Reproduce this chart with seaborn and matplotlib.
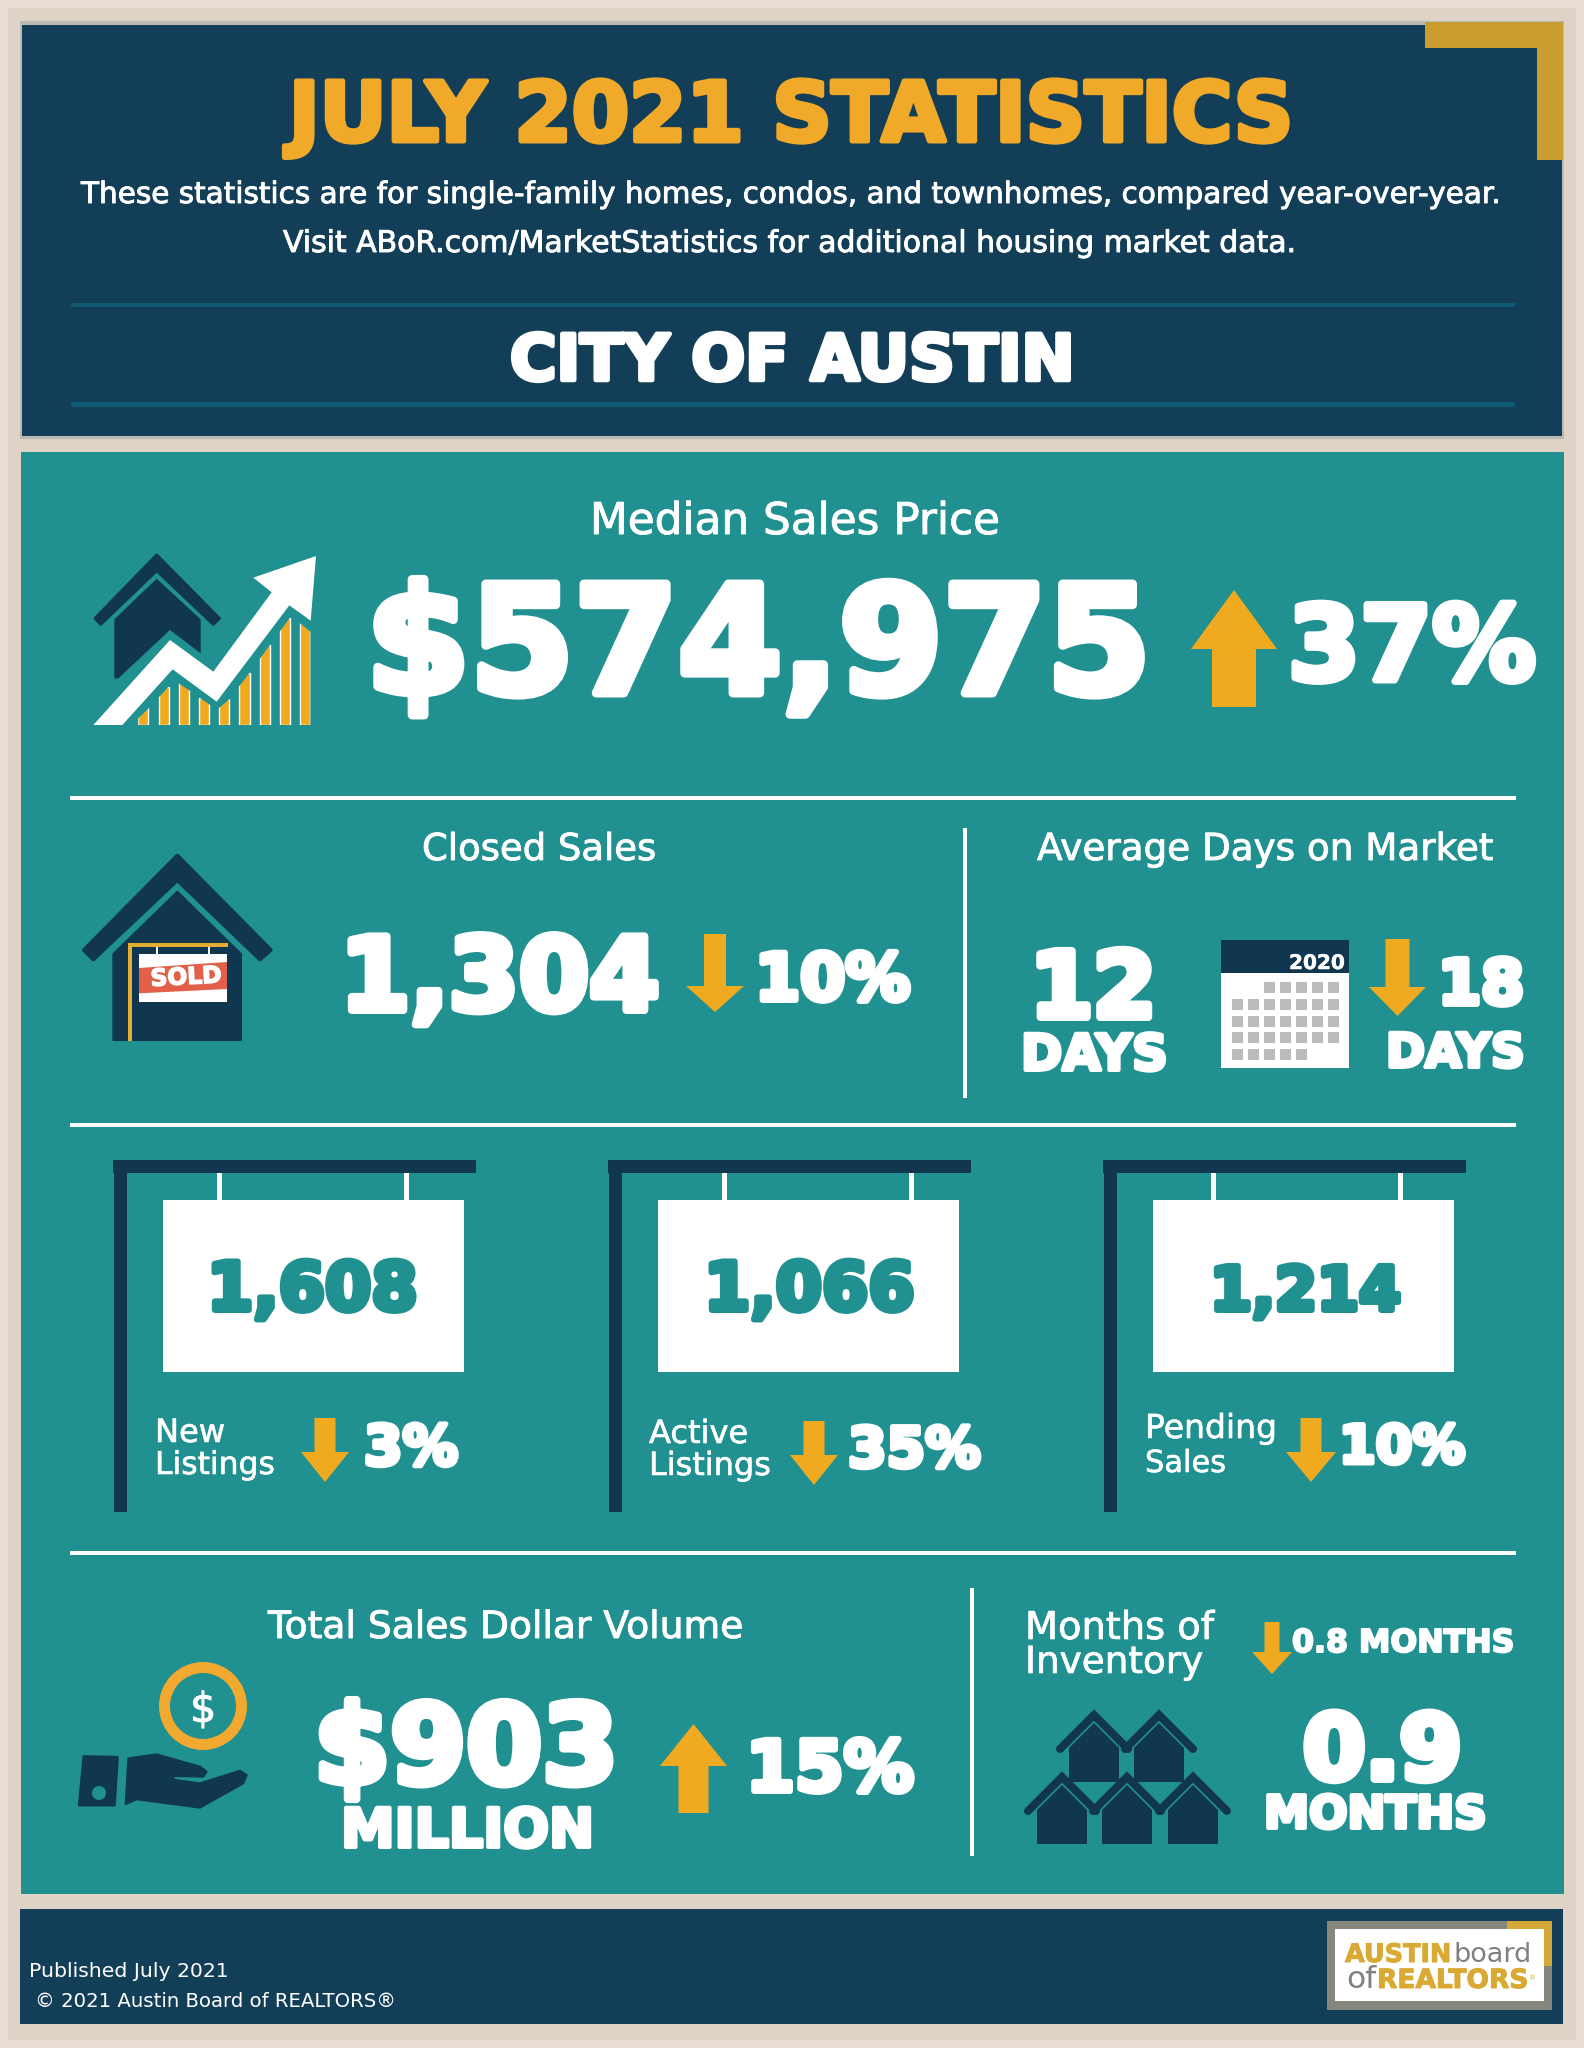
import matplotlib
matplotlib.use("Agg")
import matplotlib.pyplot as plt
import matplotlib.patheffects as pe
from matplotlib.patches import Polygon, Rectangle, Circle
import pandas as pd
import seaborn as sns

# report figures
title = "JULY 2021 STATISTICS"
subtitle_lines = ["These statistics are for single-family homes, condos, and townhomes, compared year-over-year.",
                  "Visit ABoR.com/MarketStatistics for additional housing market data."]
area = "CITY OF AUSTIN"
median_price = "$574,975"
median_change = "37%"
closed_sales = "1,304"
closed_change = "10%"
days_now = "12"
days_change = "18"
sign_values = ["1,608", "1,066", "1,214"]
sign_changes = ["3%", "35%", "10%"]
sign_labels = [["New", "Listings"], ["Active", "Listings"], ["Pending", "Sales"]]
volume = "$903"
volume_change = "15%"
inventory = "0.9"
inventory_change = "0.8 MONTHS"
footer_lines = ["Published July 2021", " © 2021 Austin Board of REALTORS®"]

# little bars in the price icon
icon_bars = [17, 38, 42, 27, 26, 52, 80, 107, 102]
# calendar squares per row: first column, count
cal_rows = [(2, 5), (0, 7), (0, 7), (0, 7), (0, 5)]

NAVY = "#123E57"
DARK = "#11364F"
TEAL = "#209090"
GOLD = "#F0AA1F"
CORNER = "#C99E2E"
WHITE = "#FFFFFF"
PX = 0.72

sns.set_theme(style="white")
plt.rcParams["font.family"] = ["DejaVu Sans"]

fig = plt.figure(figsize=(15.84, 20.48), dpi=100, facecolor="#E9DDD3")
ax = fig.add_axes([0, 0, 1, 1])
ax.set_xlim(0, 1584)
ax.set_ylim(2048, 0)
ax.axis("off")
rend = fig.canvas.get_renderer()


def box(x0, y0, x1, y1, c, z=1):
    ax.add_patch(Rectangle((x0, y0), x1 - x0, y1 - y0, fc=c, ec="none", zorder=z))


def poly(pts, c, z=3, org=None, round_px=0):
    if org:
        pts = [(org[0] + x / 3, org[1] + y / 3) for x, y in pts]
    ax.add_patch(Polygon(pts, closed=True, fc=c, ec=c if round_px else "none",
                         lw=round_px * PX, joinstyle="round", zorder=z))


def put(s, x0, x1, base, c=WHITE, weight="bold", stroke=0.0, z=6, rot=0):
    # fit text between x0 and x1 with its baseline on base
    t = ax.text(x0, base, s, color=c, fontweight=weight, fontsize=20, ha="left",
                va="baseline", parse_math=False, zorder=z, rotation=rot,
                rotation_mode="anchor")
    w = t.get_window_extent(rend).width
    t.set_fontsize(20 * (x1 - x0) / w)
    t.set_x(x0 + x0 - t.get_window_extent(rend).x0)
    if stroke:
        t.set_path_effects([pe.withStroke(linewidth=stroke * PX, foreground=c)])
    return t


def arrow(x0, x1, shaft, tail, neck, tip):
    xc = (x0 + x1) / 2
    poly([(xc - shaft / 2, tail), (xc + shaft / 2, tail), (xc + shaft / 2, neck), (x1, neck),
          (xc, tip), (x0, neck), (xc - shaft / 2, neck)], GOLD)


def small_house(cx, apex):
    # roof is a thick line, body sits under it
    ax.plot([cx - 34, cx, cx + 34], [apex + 40, apex + 6, apex + 40], color=DARK, lw=8 * PX,
            solid_capstyle="round", solid_joinstyle="miter", zorder=4)
    poly([(cx, apex + 14), (cx + 25, apex + 39), (cx + 25, apex + 73), (cx - 25, apex + 73),
          (cx - 25, apex + 39)], DARK, z=4)


# backgrounds
box(8, 8, 1576, 2040, "#DFD2C7", 0)
box(20, 21, 1564, 439, "#B9BAB3", 1)
box(22, 25, 1562, 436, NAVY, 2)
box(1425, 22, 1563, 48, CORNER, 3)
box(1537, 22, 1563, 160, CORNER, 3)
box(21, 452, 1564, 1894, TEAL, 1)
box(20, 1909, 1563, 2024, NAVY, 1)

# header
put(title, 289, 1292, 141, c="#F0A929", stroke=5)
put(subtitle_lines[0], 81, 1500, 203, weight="normal", stroke=0.9)
put(subtitle_lines[1], 283, 1296, 252, weight="normal", stroke=0.9)
box(71, 303, 1515, 307, "#0F5A73", 3)
box(71, 402, 1515, 407, "#0F5A73", 3)
put(area, 510, 1073, 380, stroke=4.5)

# median price
put("Median Sales Price", 590, 1000, 534, weight="normal", stroke=0.9)
put(median_price, 366, 1153, 693, stroke=9)
arrow(1191, 1277, 44, 707, 649, 590)
put(median_change, 1288, 1536, 680, stroke=7)

org = (60, 530)
poly([(105, 265), (290, 75), (478, 265), (460, 283), (290, 122), (122, 283)], DARK, org=org, round_px=3)
poly([(163, 268), (290, 146), (422, 268), (422, 370), (330, 300), (175, 445), (163, 445)], DARK, org=org)
poly([(100, 585), (330, 330), (460, 425), (635, 187), (580, 143), (768, 78), (752, 272), (688, 226),
      (470, 515), (338, 418), (187, 585)], WHITE, org=org, z=5)

bar_ax = fig.add_axes([133.3 / 1584, 1 - 725 / 2048, 182 / 1584, 110 / 2048], facecolor="none")
sns.barplot(data=pd.DataFrame({"bar": range(len(icon_bars)), "h": icon_bars}), x="bar", y="h",
            color=GOLD, saturation=1, width=0.5, ax=bar_ax)
bar_ax.set_ylim(0, 110)
bar_ax.axis("off")
cut = Polygon([(60 + x / 3, 530 + y / 3) for x, y in
               [(235, 585), (235, 565), (266, 535), (326, 470), (340, 450), (386, 480), (447, 523),
                (470, 540), (508, 508), (569, 428), (630, 345), (690, 263), (700, 258), (720, 280),
                (751, 305), (751, 585)]], transform=ax.transData)
for b in bar_ax.patches:
    b.set_clip_path(cut)

box(70, 796, 1516, 800, WHITE, 3)

# closed sales
put("Closed Sales", 422, 656, 860, weight="normal", stroke=0.9)
put(closed_sales, 340, 660, 1010, stroke=8)
arrow(686, 744, 22, 934, 986, 1012)
put(closed_change, 755, 910, 1000, stroke=6)

org = (60, 840)
poly([(352, 47), (632, 330), (600, 358), (352, 120), (100, 358), (72, 330)], DARK, org=org, round_px=4)
poly([(352, 155), (543, 342), (543, 600), (160, 600), (160, 342)], DARK, org=org, round_px=2)
poly([(204, 308), (504, 308), (504, 321), (216, 321), (216, 603), (204, 603)], "#E3AE32", org=org, z=4)
for hx in (289, 445):
    poly([(hx, 321), (hx + 5, 321), (hx + 5, 342), (hx, 342)], WHITE, org=org, z=4)
poly([(237, 342), (501, 342), (501, 486), (237, 486)], WHITE, org=org, z=4)
poly([(237, 384), (501, 366), (501, 447), (237, 460)], "#E2604A", org=org, z=5)
put("SOLD", 150, 222, 986, stroke=1.5, rot=3)

box(963, 828, 967, 1098, WHITE, 3)

# days on market
put("Average Days on Market", 1037, 1493, 860, weight="normal", stroke=0.9)
put(days_now, 1030, 1156, 1017, stroke=8)
put("DAYS", 1021, 1168, 1070, stroke=4)
box(1221, 940, 1349, 1068, WHITE, 3)
box(1221, 940, 1349, 973, DARK, 4)
put("2020", 1289, 1345, 969, stroke=0.5)
for r, (first, n) in enumerate(cal_rows):
    top = 982 + r * 16.8
    for col in range(first, first + n):
        box(1232 + col * 16, top, 1243 + col * 16, top + 11, "#BBBBBB", 4)
arrow(1369, 1426, 24, 939, 987, 1016)
put(days_change, 1438, 1524, 1004, stroke=6)
put("DAYS", 1386, 1525, 1067, stroke=4)

box(70, 1123, 1516, 1127, WHITE, 3)

# three hanging signs
sign_offsets = [0, 495, 990]
hanger_offsets = [0, 505, 994]
num_x = [(207, 418), (704, 915), (1210, 1401)]
change_x = [(364, 458), (848, 981), (1339, 1465)]
change_base = [1465, 1467, 1463]
arrow_box = [(301, 349, 1418), (790, 838, 1421), (1286, 1336, 1418)]
label_x = [(155, 225, 155, 275), (649, 748, 649, 771), (1145, 1277, 1145, 1226)]
label_base = [(1442, 1474), (1443, 1475), (1438, 1472)]
for i, dx in enumerate(sign_offsets):
    box(113 + dx, 1160, 476 + dx, 1173, DARK, 3)
    box(114 + dx, 1160, 127 + dx, 1512, DARK, 3)
    hdx = hanger_offsets[i]
    box(217 + hdx, 1173, 222 + hdx, 1200, WHITE, 3)
    box(404 + hdx, 1173, 409 + hdx, 1200, WHITE, 3)
    box(163 + dx, 1200, 464 + dx, 1372, WHITE, 3)
    put(sign_values[i], num_x[i][0], num_x[i][1], 1310, c=TEAL, stroke=6)
    a0, a1, at = arrow_box[i]
    arrow(a0, a1, 21, at, at + 34, at + 64)
    put(sign_changes[i], change_x[i][0], change_x[i][1], change_base[i], stroke=5)
    lx = label_x[i]
    put(sign_labels[i][0], lx[0], lx[1], label_base[i][0], weight="normal", stroke=0.6)
    put(sign_labels[i][1], lx[2], lx[3], label_base[i][1], weight="normal", stroke=0.6)

box(70, 1551, 1516, 1555, WHITE, 3)

# sales volume
put("Total Sales Dollar Volume", 268, 743, 1638, weight="normal", stroke=0.9)
ax.add_patch(Circle((203, 1706), 38.5, fc="none", ec="#F2A92F", lw=11 * PX, zorder=4))
put("$", 190, 216, 1722, weight="normal", stroke=1)
org = (60, 1640)
poly([(72, 350), (172, 352), (163, 495), (58, 495)], DARK, org=org, round_px=3)
ax.add_patch(Circle((60 + 117 / 3, 1640 + 459 / 3), 7, fc=TEAL, ec="none", zorder=5))
poly([(205, 355), (290, 343), (420, 380), (440, 395), (430, 410), (335, 408), (345, 420), (420, 430),
      (540, 392), (560, 405), (550, 430), (420, 503), (230, 478), (197, 492)], DARK, org=org, round_px=2)
put(volume, 314, 618, 1783, stroke=8)
put("MILLION", 341, 593, 1847, stroke=4)
arrow(660, 727, 30, 1813, 1766, 1724)
put(volume_change, 746, 914, 1791, stroke=6)

box(970, 1588, 974, 1856, WHITE, 3)

# months of inventory
put("Months of", 1025, 1214, 1639, weight="normal", stroke=0.7)
put("Inventory", 1025, 1203, 1673, weight="normal", stroke=0.7)
arrow(1252, 1292, 15, 1622, 1652, 1674)
put(inventory_change, 1292, 1514, 1652, stroke=2)
for hx in (1094, 1159):
    small_house(hx, 1709)
for hx in (1062, 1127, 1193):
    small_house(hx, 1771)
put(inventory, 1303, 1462, 1779, stroke=8)
put("MONTHS", 1264, 1486, 1828, stroke=4)

# footer
put(footer_lines[0], 29, 229, 1977, weight="normal")
put(footer_lines[1].strip(), 35, 398, 2007, weight="normal")
box(1327, 1921, 1552, 2010, "#85867C", 2)
box(1335, 1929, 1544, 2001, WHITE, 3)
box(1507, 1921, 1552, 1929, "#D4A935", 4)
box(1544, 1921, 1552, 1966, "#D4A935", 4)
put("AUSTIN", 1345, 1451, 1962, c="#D9A933", stroke=1)
put("board", 1454, 1532, 1962, c="#808080", weight="normal")
put("of", 1346, 1376, 1988, c="#808080", weight="normal")
put("REALTORS", 1377, 1528, 1988, c="#D9A933", stroke=1)
put("®", 1529, 1536, 1980, c="#D9A933", weight="normal")

fig.savefig("out.png", dpi=100, facecolor=fig.get_facecolor())
